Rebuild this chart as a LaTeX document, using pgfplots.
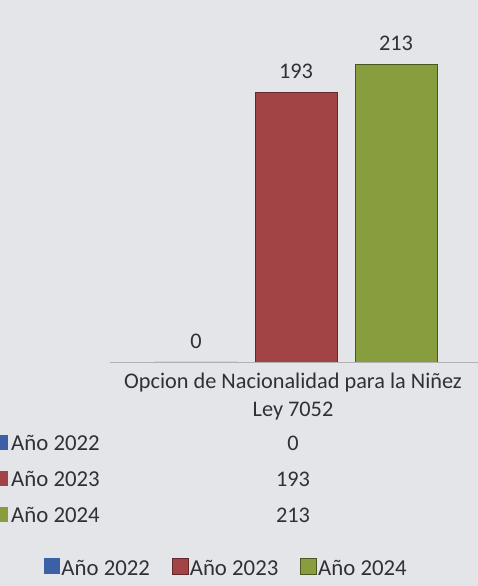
\documentclass[border=0pt]{standalone}
\usepackage{fontspec}
\setmainfont{Carlito}
\usepackage{pgfplots}
\pgfplotsset{compat=1.18}
\definecolor{bg}{RGB}{228,229,232}
\definecolor{txt}{RGB}{48,48,54}
\definecolor{y22}{RGB}{60,95,165}
\definecolor{y23}{RGB}{162,68,70}
\definecolor{y24}{RGB}{136,158,62}
\newcommand{\lblfont}{\fontsize{22.3}{26}\selectfont}
\newcommand{\legfont}{\fontsize{22.8}{27}\selectfont}
\begin{document}
\begin{tikzpicture}[x=1pt,y=1pt]
\fill[bg] (0,0) rectangle (478,586);
\path[use as bounding box] (0,0) rectangle (478,586);
\begin{axis}[at={(296pt,224pt)}, anchor=origin, scale only axis,
  width=478pt, height=362pt,
  xmin=-296, xmax=182, ymin=0, ymax=259.5,
  axis lines=none, clip=false,
  ybar=18pt, bar width=82pt,
  nodes near coords,
  /pgf/number format/assume math mode=true,
  every node near coord/.append style={font=\lblfont, text=txt, yshift=10pt},
  legend columns=3,
  legend style={at={(0.473,-0.569)}, anchor=center, draw=none, fill=none,
    font=\legfont, text=txt, nodes={inner sep=1.5pt},
    /tikz/every even column/.append style={column sep=20pt}},
  legend image code/.code={\fill[#1] (0pt,-6pt) rectangle (16pt,10pt);}]
  \addplot[fill=y22, draw=none] coordinates {(0,0)};
  \addplot[fill=y23, draw=y23!60!black, line width=0.8pt] coordinates {(0,193)};
  \addplot[fill=y24, draw=y24!55!black, line width=0.8pt] coordinates {(0,213)};
  \draw[gray!60, line width=0.6pt] (axis cs:-186,0) -- (axis cs:182,0);
  \node[font=\lblfont, text=txt] at (axis cs:-3,-15) {Opcion de Nacionalidad para la Niñez};
  \node[font=\lblfont, text=txt] at (axis cs:-3,-35.5) {Ley 7052};
  \legend{Año 2022, Año 2023, Año 2024}
\end{axis}
\foreach \c/\lab/\v/\yy in {y22/Año 2022/0/143, y23/Año 2023/193/107, y24/Año 2024/213/71}{
  \fill[\c] (-7,\yy-7) rectangle (8,\yy+8);
  \node[font=\legfont, text=txt, anchor=west, inner sep=0pt] at (11,\yy) {\lab};
  \node[font=\lblfont, text=txt] at (293,\yy) {\v};
}
\end{tikzpicture}
\end{document}
